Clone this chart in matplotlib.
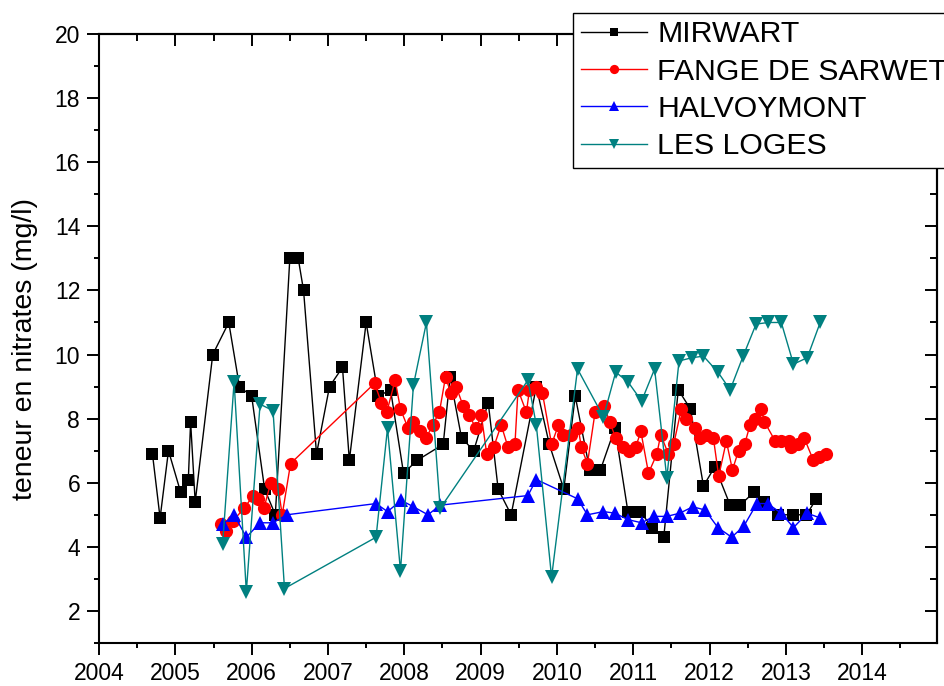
import matplotlib.pyplot as plt
from matplotlib.ticker import MultipleLocator

plt.rcParams['font.family'] = ['Liberation Sans', 'DejaVu Sans']

# --- data (decimal year, nitrate mg/l) ---
mirwart_t = [2004.70, 2004.80, 2004.91, 2005.07, 2005.17, 2005.20, 2005.26, 2005.49, 2005.70, 2005.84,
             2006.00, 2006.17, 2006.31, 2006.50, 2006.61, 2006.68, 2006.85, 2007.02, 2007.19, 2007.28,
             2007.50, 2007.66, 2007.82, 2007.99, 2008.17, 2008.51, 2008.60, 2008.75, 2008.91, 2009.10,
             2009.23, 2009.40, 2009.73, 2009.90, 2010.09, 2010.24, 2010.43, 2010.57, 2010.76, 2010.93,
             2011.09, 2011.25, 2011.40, 2011.59, 2011.75, 2011.92, 2012.07, 2012.27, 2012.40, 2012.58,
             2012.72, 2012.90, 2013.10, 2013.27, 2013.40]
mirwart_v = [6.9, 4.9, 7.0, 5.7, 6.1, 7.9, 5.4, 10.0, 11.0, 9.0,
             8.7, 5.8, 5.0, 13.0, 13.0, 12.0, 6.9, 9.0, 9.6, 6.7,
             11.0, 8.7, 8.9, 6.3, 6.7, 7.2, 9.3, 7.4, 7.0, 8.5,
             5.8, 5.0, 9.0, 7.2, 5.8, 8.7, 6.4, 6.4, 7.7, 5.1,
             5.1, 4.6, 4.3, 8.9, 8.3, 5.9, 6.5, 5.3, 5.3, 5.7,
             5.4, 5.0, 5.0, 5.0, 5.5]

fange_t = [2005.60, 2005.67, 2005.75, 2005.90, 2006.02, 2006.08, 2006.16, 2006.25, 2006.35, 2006.40,
           2006.51, 2007.61, 2007.70, 2007.77, 2007.88, 2007.95, 2008.05, 2008.12, 2008.20, 2008.29,
           2008.37, 2008.46, 2008.54, 2008.61, 2008.68, 2008.77, 2008.85, 2008.94, 2009.01, 2009.08,
           2009.17, 2009.27, 2009.36, 2009.45, 2009.49, 2009.60, 2009.64, 2009.73, 2009.81, 2009.93,
           2010.02, 2010.08, 2010.19, 2010.28, 2010.32, 2010.40, 2010.50, 2010.62, 2010.69, 2010.77,
           2010.87, 2010.95, 2011.03, 2011.10, 2011.20, 2011.31, 2011.36, 2011.46, 2011.53, 2011.63,
           2011.69, 2011.81, 2011.87, 2011.96, 2012.05, 2012.12, 2012.22, 2012.30, 2012.38, 2012.46,
           2012.53, 2012.60, 2012.68, 2012.72, 2012.86, 2012.94, 2013.04, 2013.07, 2013.16, 2013.24,
           2013.36, 2013.43, 2013.52]
fange_v = [4.7, 4.5, 4.8, 5.2, 5.6, 5.5, 5.2, 6.0, 5.8, 5.0,
           6.6, 9.1, 8.5, 8.2, 9.2, 8.3, 7.7, 7.9, 7.6, 7.4,
           7.8, 8.2, 9.3, 8.8, 9.0, 8.4, 8.1, 7.7, 8.1, 6.9,
           7.1, 7.8, 7.1, 7.2, 8.9, 8.2, 8.9, 9.0, 8.8, 7.2,
           7.8, 7.5, 7.5, 7.7, 7.1, 6.6, 8.2, 8.4, 7.9, 7.4,
           7.1, 7.0, 7.1, 7.6, 6.3, 6.9, 7.5, 6.9, 7.2, 8.3,
           8.0, 7.7, 7.4, 7.5, 7.4, 6.2, 7.3, 6.4, 7.0, 7.2,
           7.8, 8.0, 8.3, 7.9, 7.3, 7.3, 7.3, 7.1, 7.2, 7.4,
           6.7, 6.8, 6.9]

halvoy_t = [2005.62, 2005.77, 2005.93, 2006.11, 2006.28, 2006.46, 2007.63, 2007.78, 2007.96, 2008.12,
            2008.31, 2008.47, 2009.62, 2009.73, 2010.27, 2010.40, 2010.61, 2010.76, 2010.93, 2011.11,
            2011.27, 2011.44, 2011.61, 2011.78, 2011.94, 2012.11, 2012.29, 2012.45, 2012.62, 2012.76,
            2012.94, 2013.10, 2013.28, 2013.45]
halvoy_v = [4.7, 5.0, 4.3, 4.75, 4.75, 5.0, 5.35, 5.1, 5.45, 5.25,
            5.0, 5.3, 5.6, 6.1, 5.5, 5.0, 5.1, 5.05, 4.85, 4.75,
            4.95, 4.95, 5.05, 5.25, 5.15, 4.6, 4.3, 4.65, 5.35, 5.35,
            5.05, 4.6, 5.05, 4.9]

loges_t = [2005.62, 2005.77, 2005.93, 2006.11, 2006.28, 2006.43, 2007.63, 2007.78, 2007.95, 2008.12,
           2008.29, 2008.47, 2009.62, 2009.73, 2009.93, 2010.27, 2010.61, 2010.77, 2010.93, 2011.11,
           2011.28, 2011.44, 2011.60, 2011.77, 2011.92, 2012.11, 2012.27, 2012.44, 2012.61, 2012.77,
           2012.94, 2013.10, 2013.28, 2013.45]
loges_v = [4.1, 9.15, 2.6, 8.45, 8.25, 2.7, 4.3, 7.7, 3.25, 9.05,
           11.0, 5.2, 9.2, 7.8, 3.05, 9.55, 8.05, 9.45, 9.15, 8.55,
           9.55, 6.15, 9.8, 9.9, 9.95, 9.45, 8.9, 9.95, 10.95, 11.0,
           11.0, 9.7, 9.9, 11.0]

year_ticks = list(range(2004, 2015))

fig = plt.figure(figsize=(9.45, 6.86), dpi=100)
ax = fig.add_axes([0.1048, 0.0627, 0.8867, 0.8877])

ax.plot(mirwart_t, mirwart_v, color='black', lw=1, marker='s', ms=8.6, mew=0, label='MIRWART')
ax.plot(fange_t, fange_v, color='red', lw=1, marker='o', ms=9.5, mew=0, label='FANGE DE SARWET')
ax.plot(halvoy_t, halvoy_v, color='blue', lw=1, marker='^', ms=10.5, mew=0, label='HALVOYMONT')
ax.plot(loges_t, loges_v, color='#008080', lw=1, marker='v', ms=10.5, mew=0, label='LES LOGES')

ax.set_xlim(2004, 2014.98)
ax.set_ylim(1, 20)
ax.set_xticks(year_ticks)
ax.xaxis.set_minor_locator(MultipleLocator(0.5))
ax.set_yticks(range(2, 21, 2))
ax.yaxis.set_minor_locator(MultipleLocator(1))
ax.tick_params(which='major', direction='out', length=8.6, width=1.4, labelsize=16.5, pad=5)
ax.tick_params(which='minor', direction='out', length=3.6, width=1.4)
ax.set_ylabel('teneur en nitrates (mg/l)', fontsize=20.5)
ax.yaxis.set_label_coords(-0.073, 0.483)

for sp in ax.spines.values():
    sp.set_linewidth(1.5)

# mirrored inward ticks on top and right
top = ax.secondary_xaxis('top')
top.set_xticks(year_ticks)
top.xaxis.set_minor_locator(MultipleLocator(0.5))
top.tick_params(which='major', direction='in', length=8.6, width=1.4, labeltop=False)
top.tick_params(which='minor', direction='in', length=5, width=1.4)
right = ax.secondary_yaxis('right')
right.set_yticks(range(2, 21, 2))
right.yaxis.set_minor_locator(MultipleLocator(1))
right.tick_params(which='major', direction='in', length=8.6, width=1.4, labelright=False)
right.tick_params(which='minor', direction='in', length=5, width=1.4)
for s in (top, right):
    for sp in s.spines.values():
        sp.set_linewidth(1.5)

leg = ax.legend(loc='upper left', bbox_to_anchor=(573 / 945, 1 - 12.7 / 686),
                bbox_transform=fig.transFigure, fontsize=21.8, frameon=True, fancybox=False,
                edgecolor='black', framealpha=1, handlelength=2.2, handletextpad=0.33,
                borderpad=0.25, labelspacing=0.31, markerscale=0.7, borderaxespad=0, numpoints=1)
leg.get_frame().set_linewidth(1.0)
leg.set_zorder(10)

fig.savefig('out.png', dpi=100)
